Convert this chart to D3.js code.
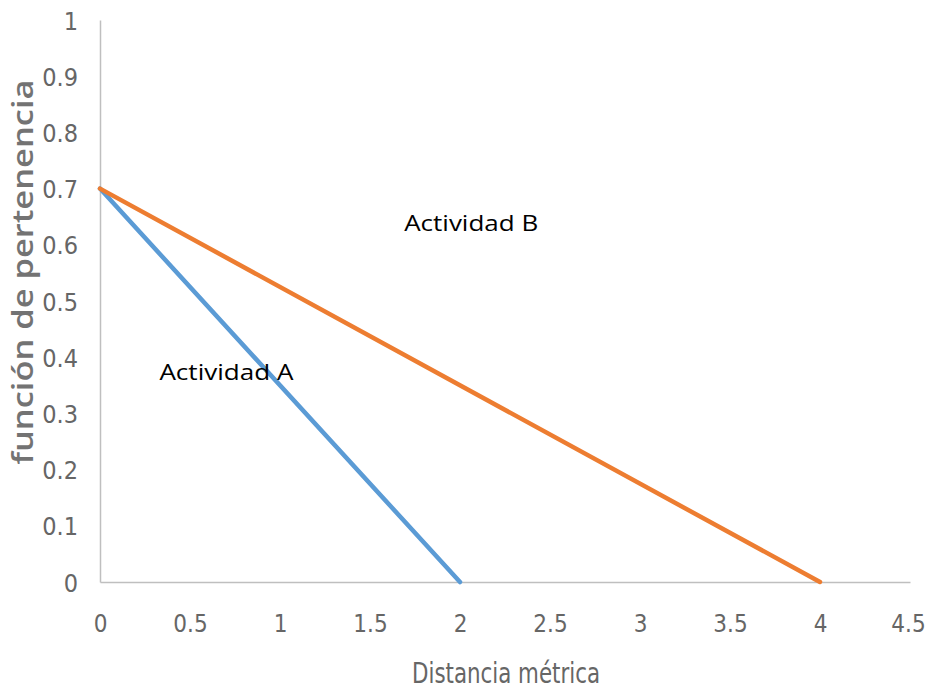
<!DOCTYPE html>
<html><head><meta charset="utf-8">
<script src="https://cdn.jsdelivr.net/npm/d3@7"></script>
<style>body{margin:0;background:#fff;} svg{display:block;}</style>
</head><body>
<svg id="c" width="926" height="690"></svg>
<script>
const xTicks = [0, 0.5, 1, 1.5, 2, 2.5, 3, 3.5, 4, 4.5];
const yTicks = [0, 0.1, 0.2, 0.3, 0.4, 0.5, 0.6, 0.7, 0.8, 0.9, 1];
const seriesNames = ["Actividad A", "Actividad B"];
const seriesX = [[0, 2], [0, 4]];
const seriesY = [[0.7, 0], [0.7, 0]];
const seriesColors = ["#5B9BD5", "#ED7D31"];
const labelPos = [[0.33, 0.36], [1.69, 0.625]]; // data coords of annotation text start
const xTitle = "Distancia métrica";
const yTitle = "función de pertenencia";

const svg = d3.select("#c");
const x = d3.scaleLinear().domain([0, 4.5]).range([100, 910]);
const y = d3.scaleLinear().domain([0, 1]).range([582, 20]);
const tickFont = "'Liberation Sans Narrow','DejaVu Sans Condensed',sans-serif";
const gray = "#666666";

// Axes
const xAxis = svg.append("g").attr("transform", `translate(0,${y(0)})`)
  .call(d3.axisBottom(x).tickValues(xTicks).tickSize(0).tickPadding(0).tickFormat(d => String(d)));
xAxis.select(".domain").attr("stroke", "#BFBFBF").attr("stroke-width", 1.5);
xAxis.selectAll("text").attr("font-family", tickFont).attr("font-size", 24)
  .attr("fill", gray).attr("dy", null).attr("y", 50)
  .attr("x", d => d === 4.5 ? -2 : 0);

const yAxis = svg.append("g").attr("transform", `translate(${x(0)},0)`)
  .call(d3.axisLeft(y).tickValues(yTicks).tickSize(0).tickPadding(22).tickFormat(d => String(d)));
yAxis.select(".domain").attr("stroke", "#BFBFBF").attr("stroke-width", 1.5);
yAxis.selectAll("text").attr("font-family", tickFont).attr("font-size", 25)
  .attr("fill", gray).attr("dy", "0.36em");

// Lines
const line = d3.line().x(d => x(d[0])).y(d => y(d[1]));
seriesNames.forEach((n, i) => {
  const pts = seriesX[i].map((v, j) => [v, seriesY[i][j]]);
  svg.append("path").datum(pts).attr("d", line)
    .attr("fill", "none").attr("stroke", seriesColors[i])
    .attr("stroke-width", 4.5).attr("stroke-linecap", "round");
});
// Annotations
seriesNames.forEach((n, i) => {
  svg.append("text").attr("x", x(labelPos[i][0])).attr("y", y(labelPos[i][1]))
    .attr("font-family", "'Open Sans','Liberation Sans',sans-serif").attr("font-size", 21)
    .attr("textLength", 134).attr("lengthAdjust", "spacingAndGlyphs")
    .attr("fill", "#000").text(n);
});

// Axis titles
svg.append("text").attr("x", (x(0) + x(4.5)) / 2 + 1).attr("y", 683)
  .attr("text-anchor", "middle").attr("font-family", tickFont).attr("font-size", 28)
  .attr("textLength", 188).attr("lengthAdjust", "spacingAndGlyphs")
  .attr("fill", gray).text(xTitle);

svg.append("text").attr("transform", "translate(33,272) rotate(-90)")
  .attr("text-anchor", "middle").attr("font-family", "'Open Sans','DejaVu Sans',sans-serif")
  .attr("font-size", 28).attr("font-weight", 600)
  .attr("textLength", 385).attr("lengthAdjust", "spacingAndGlyphs")
  .attr("fill", "#737373").text(yTitle);
</script>
</body></html>
